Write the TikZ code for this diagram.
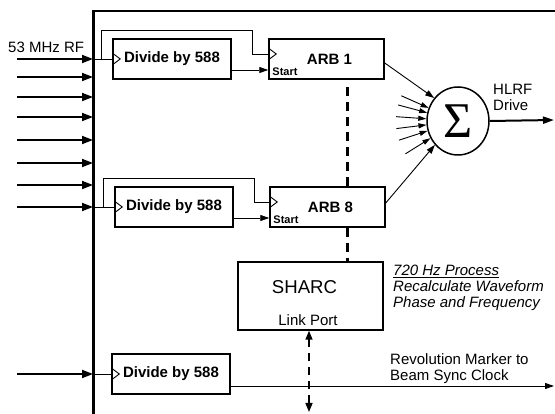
\documentclass[tikz,border=0pt]{standalone}
\usepackage{fontspec}
\setmainfont{Liberation Sans}
\newfontfamily\sigmafont{Liberation Serif}
\usetikzlibrary{calc,arrows.meta,shapes.geometric}

\newcommand{\clk}[1]{\draw[thin] ($(#1)+(0,-6)$) -- ++(8,6) -- ++(-8,6);}

\begin{document}
\begin{tikzpicture}[x=1pt, y=-1pt,
    every node/.style={font=\fontsize{15}{16}\selectfont, inner sep=0pt},
    box/.style={draw, line width=1.5pt, minimum height=40pt, font=\fontsize{15}{16}\selectfont\bfseries},
    thin/.style={line width=0.9pt},
    inarrow/.style={line width=1.8pt, -{Triangle[length=11pt,width=8pt]}},
    sig/.style={line width=0.9pt, -{Triangle[length=9pt,width=6pt]}},
    bus/.style={line width=3pt, dash pattern=on 9pt off 6pt}]
    \useasboundingbox (0,0) rectangle (555,414);
    \clip (0,0) rectangle (555,414);

    % frame and inputs
    \draw[line width=2.6pt] (93.5,420) -- (93.5,11) -- (560,11);
    \foreach \y [count=\i] in {59,77,97,117,140,163,185,207,374} {
        \coordinate (in\i) at (93,\y);
        \draw[inarrow] (17,\y) -- (in\i);
    }
    \node[anchor=west] (rf) at (8,47) {53 MHz RF};

    % dividers and ARBs
    \node[box, minimum width=118pt] (div1) at (172,59) {Divide by 588};
    \node[box, minimum width=118pt] (div2) at (174,207) {Divide by 588};
    \node[box, minimum width=118pt] (div3) at (171,374) {Divide by 588};
    \node[box, minimum width=115pt] (arb1) at (326.5,59) {\hspace{6pt}ARB 1};
    \node[box, minimum width=115pt] (arb8) at (327.5,207) {\hspace{6pt}ARB 8};
    \node[anchor=south west, font=\fontsize{11}{12}\selectfont\bfseries] (st1) at ($(arb1.south west)+(4,-4)$) {Start};
    \node[anchor=south west, font=\fontsize{11}{12}\selectfont\bfseries] (st8) at ($(arb8.south west)+(4,-4)$) {Start};
    \clk{div1.west}
    \clk{div2.west}
    \clk{div3.west}
    \coordinate (c1) at ($(arb1.west)+(0,-5)$);
    \coordinate (c8) at ($(arb8.west)+(0,-5)$);
    \clk{c1}
    \clk{c8}

    \draw[thin] (in1) -- (div1.west);
    \draw[thin] (in8) -- (div2.west);
    \draw[thin] (in9) -- (div3.west);
    \coordinate (j1) at (101,59);
    \coordinate (j8) at (103,207);
    \draw[thin] (j1) |- (252,30) |- (c1);
    \draw[thin] (j8) |- (254,178) |- (c8);
    \draw[sig] ($(div1.east)+(0,11)$) -- ($(arb1.west)+(0,11)$);
    \draw[sig] ($(div2.east)+(0,11)$) -- ($(arb8.west)+(0,11)$);

    % summing junction
    \node[draw, ellipse, line width=1.5pt, minimum width=62pt, minimum height=68pt,
        font=\sigmafont\fontsize{50}{50}\selectfont] (sum) at (458,121) {Σ};
    \draw[sig] ($(arb1.east)+(0,4)$) -- (sum.136);
    \draw[sig] ($(arb8.east)+(0,-4)$) -- (sum.226);
    \foreach \a in {156,165,176,187,198,212}
        \draw[line width=0.9pt, -{Triangle[length=8pt,width=5pt]}] ($(sum.center)+(-\a:62)$) -- (sum.\a);
    \coordinate (hl) at (554,120);
    \draw[line width=2pt, -{Triangle[length=11pt,width=7pt]}] (sum.east) -- (hl);
    \node[anchor=north west, align=left] (hlrf) at (493,84) {HLRF\\Drive};

    % SHARC
    \node[draw, line width=1.5pt, minimum width=145pt, minimum height=68pt] (sharc) at (310.5,296) {};
    \node[font=\fontsize{18.6}{20}\selectfont] (sharct) at (304.5,287) {SHARC};
    \node (lp) at (308,320.5) {Link Port};
    \coordinate (bt) at (347,87);
    \draw[bus] (bt) -- (bt |- arb8.north);
    \draw[bus] (bt |- arb8.south) -- (bt |- sharc.north);
    \coordinate (lk) at (309,412);
    \draw[line width=1.5pt, dash pattern=on 8pt off 6pt,
        {Triangle[length=9pt,width=7pt]}-{Triangle[length=9pt,width=7pt]}] (lk |- sharc.south) -- (lk);
    \node[anchor=north west, align=left, font=\fontsize{15}{16}\selectfont\itshape] (proc) at (393,265)
        {\underline{720 Hz Process}\\Recalculate Waveform\\Phase and Frequency};

    % revolution marker
    \coordinate (rm) at (554,386);
    \draw[sig] ($(div3.east)+(0,12)$) -- (rm);
    \node[anchor=north west, align=left] (rev) at (390,353) {Revolution Marker to\\Beam Sync Clock};
\end{tikzpicture}
\end{document}
